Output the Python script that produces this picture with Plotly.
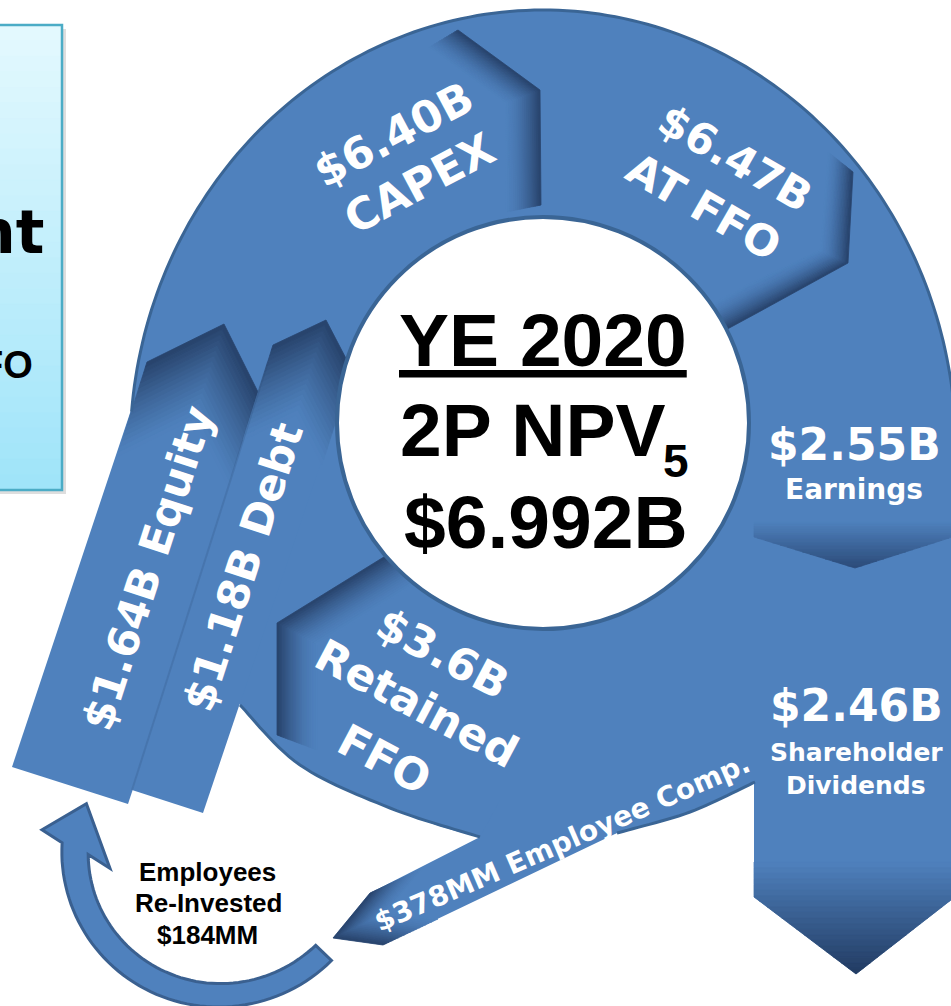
import numpy as np
import plotly.graph_objects as go

# text
center_lines = ["YE 2020", "2P NPV", "5", "$6.992B"]
capex_lines = ["$6.40B", "CAPEX"]
at_ffo_lines = ["$6.47B", "AT FFO"]
retained_lines = ["$3.6B", "Retained", "FFO"]
earnings_lines = ["$2.55B", "Earnings"]
dividend_lines = ["$2.46B", "Shareholder", "Dividends"]
funding_labels = ["$1.64B Equity", "$1.18B Debt"]
employee_comp = "$378MM Employee Comp."
reinvested_lines = ["Employees", "Re-Invested", "$184MM"]
panel_lines = ["nt", "FO"]

# placement of the labels (x, y, size)
center_pos = [(543, 340, 75), (532, 430, 75), (676, 461, 46), (546, 522, 75)]
capex_pos, capex_angle = [(393, 134), (419, 183)], -28
at_ffo_pos, at_ffo_angle = [(735, 158), (704, 207)], 30
retained_pos, retained_angle = [(443, 653), (417, 703), (385, 759)], 28
earnings_pos = [(854, 444, 44), (854, 489, 28)]
dividend_pos = [(856, 705, 44), (856, 752, 25), (856, 785, 25)]
funding_pos, funding_angle = [(148, 568), (243, 567)], -72
employee_pos, employee_angle = (562, 842), -23.5
reinvest_pos = [(207, 872), (208, 903), (207, 935)]
panel_pos = [(46, 232, 60), (35, 365, 38)]

W, H = 951, 1006
BLUE = "#4F81BD"
EDGE = "#3A6595"
DARK = "#27426A"
WHITE_FONT = "DejaVu Sans"
BLACK_FONT = "Liberation Sans, Arial"

shapes = []
annots = []


def hex2rgb(h):
    return np.array([int(h[i:i + 2], 16) for i in (1, 3, 5)], float)


def mix(c0, c1, f):
    r = hex2rgb(c0) * (1 - f) + hex2rgb(c1) * f
    return "rgb(%d,%d,%d)" % tuple(np.round(r))


def poly(pts, fill, line=None, width=0.0):
    d = "M" + "L".join("%.1f,%.1f" % (x, y) for x, y in pts) + "Z"
    shapes.append(dict(type="path", path=d, xref="x", yref="y", fillcolor=fill,
                       line=dict(color=line or fill, width=width)))


def polyline(pts, color, width):
    d = "M" + "L".join("%.1f,%.1f" % (x, y) for x, y in pts)
    shapes.append(dict(type="path", path=d, xref="x", yref="y",
                       fillcolor="rgba(0,0,0,0)", line=dict(color=color, width=width)))


def ellipse(cx, cy, rx, ry, a0, a1, n=160):
    t = np.radians(np.linspace(a0, a1, n))
    return list(zip(cx + rx * np.cos(t), cy + ry * np.sin(t)))


def smooth(pts, n=14):
    # catmull-rom through the outline points
    p = np.array(pts, float)
    p = np.vstack([p[0], p, p[-1]])
    out = []
    for i in range(1, len(p) - 2):
        p0, p1, p2, p3 = p[i - 1], p[i], p[i + 1], p[i + 2]
        for t in np.linspace(0, 1, n, endpoint=False):
            out.append(0.5 * (2 * p1 + (-p0 + p2) * t + (2 * p0 - 5 * p1 + 4 * p2 - p3) * t * t
                              + (-p0 + 3 * p1 - 3 * p2 + p3) * t ** 3))
    out.append(p[-2])
    return [tuple(q) for q in out]


def bevel(light, dark, c_dark, n=18, power=1.6):
    A = np.array(light, float)
    B = np.array(dark, float)
    for i in range(n):
        L0 = A + (B - A) * i / n
        L1 = A + (B - A) * (i + 1) / n
        col = mix(BLUE, c_dark, ((i + 0.5) / n) ** power)
        poly(np.vstack([L0, L1[::-1]]), col, col, 0.8)


def clip(pts, nrm, c):
    out = []
    k = len(pts)
    for i in range(k):
        p, q = pts[i], pts[(i + 1) % k]
        dp, dq = nrm @ p - c, nrm @ q - c
        if dp <= 0:
            out.append(p)
        if dp * dq < 0:
            out.append(p + (q - p) * dp / (dp - dq))
    return out


def linear(region, p0, p1, c0, c1, n=20, power=1.0, extend=False):
    P = [np.array(p, float) for p in region]
    p0 = np.array(p0, float)
    d = np.array(p1, float) - p0
    dd = d @ d
    for i in range(n):
        t0 = -50 if (extend and i == 0) else i / n
        t1 = 50 if i == n - 1 else (i + 1) / n
        s = clip(P, -d, -(p0 @ d + t0 * dd))
        s = clip(s, d, p0 @ d + t1 * dd)
        if len(s) >= 3:
            col = mix(c0, c1, ((i + 0.5) / n) ** power)
            poly(s, col, col, 0.8)


# ---- ring body ----
ring_c, ring_rx, ring_ry = (543, 450), 413, 440
hole_c, hole_r = (543, 423), 206
lower_curve = [(755, 782), (690, 812), (617, 833), (550, 842), (480, 837),
               (390, 808), (300, 765), (240, 705)]

arc = ellipse(ring_c[0], ring_c[1], ring_rx, ring_ry, 185, 365)
body = arc + [(965, arc[-1][1]), (965, 560), (754, 560)] + smooth(lower_curve) + [(180, 600)]
poly(body, BLUE)

# dividends arrow
poly([(754, 540), (965, 540), (965, 889), (856, 974), (754, 897)], BLUE)

# employee comp arrow
poly([(480, 837), (370, 893), (333, 938), (383, 945), (617, 833), (640, 800), (500, 800)], BLUE)

# equity / debt arrows
equity_head = [(147, 362), (224, 324), (262, 400)]
debt_head = [(273, 345), (326, 320), (352, 370)]
poly(equity_head + [(128, 804), (12, 767)], BLUE)
bevel([(x - 30, y + 95) for x, y in equity_head], equity_head, DARK, power=1.3)
poly(debt_head + [(203, 813), (132, 790)], BLUE)
bevel([(x - 30, y + 95) for x, y in debt_head], debt_head, DARK, power=1.3)
# faint seam where the debt arrow lies on the equity arrow
polyline([(268, 362), (132, 790)], "rgba(40,66,106,0.18)", 2)

# shaded arrow tips inside the ring
bevel([(428, 48), (505, 104), (506, 212)], [(458, 30), (540, 90), (541, 205)], DARK)
bevel([(828, 152), (820, 250), (743, 287), (706, 307)],
      [(853, 172), (848, 263), (757, 313), (720, 333)], DARK)
bevel([(421, 581), (317, 645), (317, 750)], [(400, 547), (277, 623), (277, 735)], DARK)
bevel([(425, 867), (388, 912), (438, 919)], [(370, 893), (333, 938), (383, 945)], DARK)
linear([(754, 480), (965, 480), (965, 533), (855, 568), (754, 537)],
       (855, 522), (855, 568), BLUE, "#2C4B79")
linear([(754, 840), (965, 840), (965, 889), (856, 974), (754, 897)],
       (856, 862), (856, 974), BLUE, "#223B62")

# ring outlines
polyline(arc, EDGE, 3)
polyline(smooth(lower_curve[4:]), EDGE, 3)
polyline(smooth(lower_curve[:3]), EDGE, 3)

# center hole
shapes.append(dict(type="circle", xref="x", yref="y",
                   x0=hole_c[0] - hole_r, x1=hole_c[0] + hole_r,
                   y0=hole_c[1] - hole_r, y1=hole_c[1] + hole_r,
                   fillcolor="white", line=dict(color=EDGE, width=4)))

# curved re-invest arrow
cx, cy = 215, 848
ang_out = np.linspace(44, 182, 60)
r_out = np.linspace(162, 153, 60)
ang_in = np.linspace(177, 44, 60)
r_in = np.linspace(127, 140, 60)


def polar(r, a):
    a = np.radians(a)
    return (cx + r * np.cos(a), cy + r * np.sin(a))


curl = [polar(r, a) for r, a in zip(r_out, ang_out)]
curl += [polar(174, 186), polar(136, 199), polar(107, 169)]
curl += [polar(r, a) for r, a in zip(r_in, ang_in)]
poly(curl, BLUE, "#3A6090", 3)

# partial side panel on the left
shapes.append(dict(type="rect", xref="x", yref="y", x0=-10, x1=66, y0=29, y1=494,
                   fillcolor="rgba(0,0,0,0.13)", line=dict(width=0)))
linear([(-10, 25), (62, 25), (62, 490), (-10, 490)], (0, 25), (0, 490),
       "#E4F9FE", "#9FE4F9", n=30, extend=True)
shapes.append(dict(type="rect", xref="x", yref="y", x0=-10, x1=62, y0=25, y1=490,
                   fillcolor="rgba(0,0,0,0)", line=dict(color="#4BACC6", width=2.5)))


# ---- text ----
def label(text, x, y, size, angle=0, color="white", family=WHITE_FONT, xanchor="center", height=None):
    a = dict(text=text, x=x, y=y, xref="x", yref="y", showarrow=False,
             textangle=angle, xanchor=xanchor, yanchor="middle",
             font=dict(family=family, size=size, color=color, weight="bold"))
    if height:
        a["height"] = height
    annots.append(a)


for i, (t, (x, y, s)) in enumerate(zip(center_lines, center_pos)):
    label("<u>%s</u>" % t if i == 0 else t, x, y, s, color="black", family=BLACK_FONT,
          height=34 if i == 2 else None)
for t, (x, y) in zip(capex_lines, capex_pos):
    label(t, x, y, 44, capex_angle)
for t, (x, y) in zip(at_ffo_lines, at_ffo_pos):
    label(t, x, y, 43, at_ffo_angle)
for t, (x, y) in zip(retained_lines, retained_pos):
    label(t, x, y, 44, retained_angle)
for t, (x, y, s) in zip(earnings_lines, earnings_pos):
    label(t, x, y, s)
for t, (x, y, s) in zip(dividend_lines, dividend_pos):
    label(t, x, y, s)
for t, (x, y) in zip(funding_labels, funding_pos):
    label(t, x, y, 43, funding_angle)
label(employee_comp, employee_pos[0], employee_pos[1], 28, employee_angle)
for t, (x, y) in zip(reinvested_lines, reinvest_pos):
    label(t, x, y, 26, color="black", family=BLACK_FONT)
label(panel_lines[0], *panel_pos[0], color="black", xanchor="right")
label(panel_lines[1], *panel_pos[1], color="black", family=BLACK_FONT, xanchor="right")

fig = go.Figure()
fig.update_layout(width=W, height=H, margin=dict(l=0, r=0, t=0, b=0),
                  paper_bgcolor="white", plot_bgcolor="white", showlegend=False,
                  xaxis=dict(range=[0, W], visible=False, fixedrange=True),
                  yaxis=dict(range=[H, 0], visible=False, fixedrange=True),
                  shapes=shapes, annotations=annots)
fig.write_html("out.html", config={"displayModeBar": False},
               post_script="document.body.style.margin='0';document.body.style.overflow='hidden';")
